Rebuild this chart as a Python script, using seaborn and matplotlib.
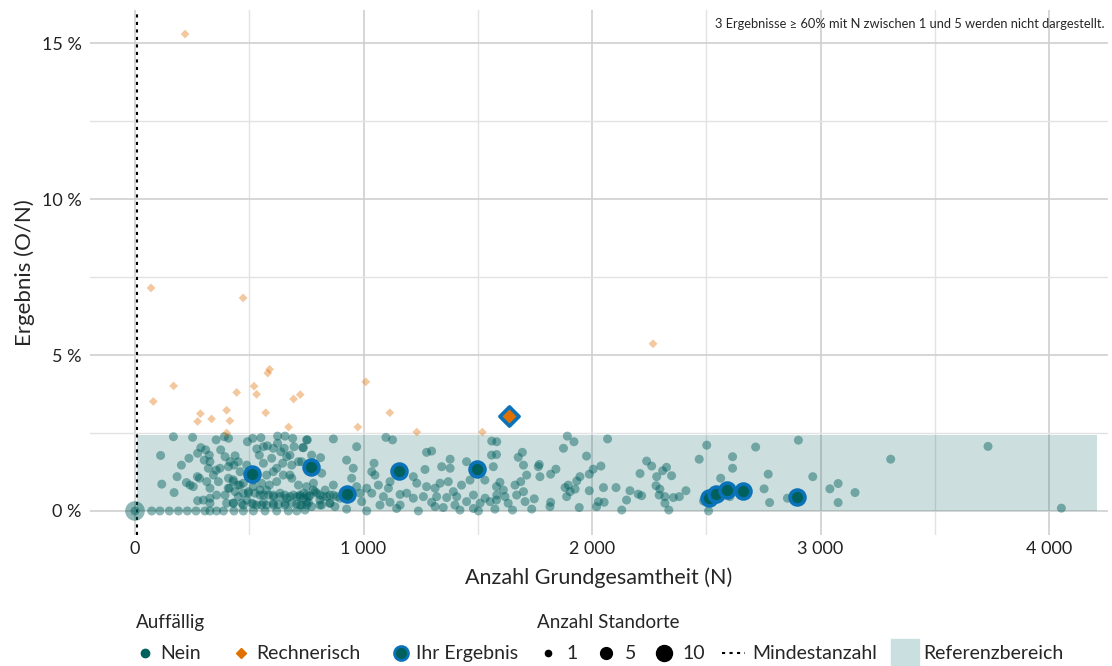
import pandas as pd
import seaborn as sns
import matplotlib.pyplot as plt
from matplotlib.lines import Line2D
from matplotlib.ticker import FuncFormatter, MultipleLocator

# --- data ----------------------------------------------------------------
# unauffaellige Standorte (N, Ergebnis in %)
nein_n = [
    168, 252, 355, 391, 409, 492, 515, 551, 579, 624, 656, 690, 696, 751, 734,
    288, 309, 274, 325, 375, 394, 416, 438, 452, 533, 544, 562, 605, 624, 638,
    653, 664, 598, 678, 715, 112, 236, 328,
    203, 303, 321, 355, 372, 409, 433, 460, 489, 562, 620, 646, 686, 729, 576,
    605, 649, 678,
    184, 273, 282, 343, 365, 409, 430, 452, 413, 474, 518, 554, 588, 620, 686,
    715, 225, 241, 255, 117, 314, 328, 171,
    274, 299, 328, 357, 394, 438, 452, 474, 496, 525, 547, 562, 584, 605, 635,
    656, 678, 708, 737, 759, 401, 430, 467, 489, 511, 533, 554, 576, 605, 627,
    656, 686, 722, 751, 328,
    73, 109, 150, 190, 229, 267, 306, 328, 357, 387, 433, 474, 518, 569, 620,
    671, 708,
    408, 430, 460, 496, 518, 547, 576, 606, 635, 664, 693, 722, 751, 780, 809,
    839, 868, 430, 474, 518, 562, 606, 657, 708, 759, 809, 853,
    754, 868, 970, 1098, 1127, 1276, 1298, 1379, 1451, 1561, 1583, 737, 773,
    812, 926, 955, 1046, 1036, 1050, 948, 817, 1269, 1342, 1379, 1568, 1218,
    1116, 1233, 1335, 1371, 1429, 1466, 1531, 781, 751, 868, 970, 1014, 1065,
    1109, 1276, 1313, 1393, 737, 788, 832, 985, 1036, 1087, 1160, 1189, 1218,
    1262, 1320, 1364, 1408, 1481, 1532, 1583, 751, 809, 853, 897, 992, 1072,
    1116, 1160, 1298, 1349, 1400, 1451, 1481, 1510, 1554, 744, 926, 1014, 1145,
    1240, 1422, 1503, 1313, 722, 766, 795, 824, 853, 882, 729, 773, 817, 875,
    1892, 1921, 1875, 2068, 1582, 1560, 1695, 1677, 1700, 1769, 1765, 1772,
    1714, 1819, 1842, 1976, 1988, 2005, 2039, 1947, 1933, 1896, 1882, 1904,
    1926, 1889, 1688, 1663, 1597, 1582, 1612, 1700, 1670, 1747, 1707, 1819,
    1816, 1582, 1619, 1633, 1652, 1736, 1575, 1944, 1988, 2020, 2050, 2028,
    2053, 2105, 2130, 2151, 2166, 2202, 2217, 2210, 2239, 2261, 2283, 2309,
    2326, 2348, 2280, 2297, 2294, 2319, 2319, 2336, 2356, 2382, 2411, 2469,
    2502, 2563, 2615, 2615, 2603, 2510, 2488,
    2716, 2903, 2771, 2966, 2753, 2777, 2855, 3041, 3077, 3077, 3151, 3307,
    3733, 4054, 0,
]
nein_pct = [
    2.38, 2.36, 2.28, 2.38, 2.33, 2.22, 2.33, 2.35, 2.09, 2.40, 2.40, 2.33, 2.06, 2.28, 2.03,
    2.03, 1.96, 1.85, 1.79, 1.96, 1.74, 1.58, 1.77, 1.58, 1.99, 1.79, 2.06, 2.01, 2.17, 1.90,
    2.01, 1.74, 1.69, 1.79, 1.58, 1.78, 1.69, 1.58,
    1.47, 1.63, 1.37, 1.31, 1.37, 1.42, 1.47, 1.26, 1.47, 1.53, 1.37, 1.53, 1.47, 1.58, 1.15,
    1.26, 1.15, 1.15,
    1.10, 1.10, 1.05, 1.15, 0.94, 1.05, 0.94, 0.83, 0.73, 0.89, 0.99, 0.89, 0.83, 0.94, 1.05,
    0.83, 0.91, 0.83, 0.78, 0.86, 0.94, 0.73, 0.59,
    0.33, 0.35, 0.41, 0.51, 0.51, 0.62, 0.46, 0.57, 0.62, 0.57, 0.67, 0.51, 0.51, 0.51, 0.46,
    0.51, 0.46, 0.46, 0.41, 0.46, 0.25, 0.25, 0.25, 0.35, 0.25, 0.19, 0.19, 0.19, 0.25, 0.21,
    0.19, 0.25, 0.19, 0.19, 0.25,
    0, 0, 0, 0, 0, 0, 0, 0, 0, 0, 0, 0, 0, 0, 0,
    0, 0,
    0.73, 1.00, 0.83, 0.57, 0.78, 0.51, 0.67, 0.46, 0.57, 0.41, 0.51, 0.46, 0.51, 0.67, 0.51,
    0.46, 0.51, 0.25, 0.19, 0.22, 0.27, 0.19, 0.25, 0.22, 0.27, 0.19, 0.25,
    2.28, 2.31, 2.06, 2.36, 2.28, 1.88, 1.92, 1.66, 1.58, 2.24, 2.22, 2.03, 1.79,
    1.71, 1.63, 1.37, 1.53, 1.26, 1.15, 1.05, 1.21, 1.33, 1.42, 1.37, 1.42, 1.10,
    0.94, 0.89, 0.89, 0.94, 0.83, 0.99, 0.99, 0.89, 0.78, 0.83, 0.78, 0.73, 0.83,
    0.73, 0.78, 0.73, 0.62, 0.57, 0.62, 0.67, 0.57, 0.57, 0.46, 0.53, 0.57, 0.41,
    0.46, 0.46, 0.43, 0.46, 0.51, 0.41, 0.51, 0.30, 0.35, 0.25, 0.41, 0.30, 0.19,
    0.28, 0.19, 0.28, 0.11, 0.19, 0.30, 0.08, 0.25, 0.30, 0.03, 0.06, 0, 0.08,
    0, 0.03, 0, 0.14, 0.51, 0.49, 0.57, 0.46, 0.51, 0.46, 0.19, 0.14, 0.19, 0.14,
    2.40, 2.22, 2.01, 2.31, 1.81, 1.79, 1.88, 1.72, 1.47, 1.49, 1.42, 1.10,
    1.15, 1.18, 1.34, 1.76, 1.18, 1.34, 1.44, 1.10, 0.96, 0.83, 0.75, 0.62,
    0.70, 0.46, 0.94, 0.83, 0.92, 0.78, 0.67, 0.62, 0.51, 0.39, 0.30, 0.28,
    0.14, 0.35, 0.46, 0.25, 0.03, 0.06, 0.06, 0.11, 0.65, 0.14, 0.75, 0.30,
    0.28, 0.75, 0.03, 0.35, 0.65, 0.54, 0.49, 1.20, 1.60, 1.44, 1.10, 1.29,
    1.40, 1.13, 0.81, 0.70, 0.51, 0.46, 0.25, 0.03, 0.43, 0.46, 0.65, 1.66,
    2.11, 1.05, 1.74, 1.37, 0.46, 0, 0.32,
    2.05, 2.27, 1.18, 1.10, 0.71, 0.27, 0.41, 0.71, 0.88, 0.27, 0.59, 1.66,
    2.07, 0.09, 0,
]

# Standorte mit mehreren Standorten
multi_n = [0]
multi_pct = [0]
multi_standorte = [10]

# rechnerisch auffaellig
rech_n = [219, 70, 473, 2267, 80, 169, 274, 286, 335, 401, 415, 445, 401, 521,
          532, 572, 581, 589, 694, 723, 672, 975, 1010, 1115, 1233, 1520]
rech_pct = [15.29, 7.15, 6.83, 5.36, 3.51, 4.01, 2.87, 3.12, 2.95, 3.23, 2.89,
            3.80, 2.50, 4.00, 3.74, 3.15, 4.42, 4.54, 3.59, 3.73, 2.69, 2.69,
            4.14, 3.15, 2.53, 2.53]

# eigene Ergebnisse
own_n = [510, 770, 926, 1157, 1495, 2514, 2543, 2590, 2660, 2896]
own_pct = [1.17, 1.42, 0.53, 1.29, 1.33, 0.41, 0.56, 0.67, 0.64, 0.44]
own_rech_n = [1636]
own_rech_pct = [3.05]

mindestanzahl = 10
ref_oben = 2.45
ref_n_max = 4210

teal = "#00605e"
orange = "#e07000"
blue = "#0a72b8"
band = "#cadfdf"
size_map = {1: 42, 5: 115, 10: 200}

sns.set_theme(style="white")
plt.rcParams["font.family"] = ["Lato", "DejaVu Sans"]

df_nein = pd.DataFrame({"N": nein_n, "pct": nein_pct, "standorte": 1})
df_multi = pd.DataFrame({"N": multi_n, "pct": multi_pct, "standorte": multi_standorte})
df_nein = pd.concat([df_nein, df_multi], ignore_index=True)
df_rech = pd.DataFrame({"N": rech_n, "pct": rech_pct})
df_own = pd.DataFrame({"N": own_n, "pct": own_pct})
df_own_rech = pd.DataFrame({"N": own_rech_n, "pct": own_rech_pct})

fig = plt.figure(figsize=(11.12, 6.66), dpi=100)
ax = fig.add_axes([90 / 1112, 1 - 535 / 666, 1018 / 1112, 525 / 666])

# Referenzbereich + Mindestanzahl
ax.fill_between([mindestanzahl, ref_n_max], 0, ref_oben, color=teal, alpha=0.2,
                lw=0, zorder=1)
ax.axvline(mindestanzahl, color="black", ls=(0, (1.5, 2.1)), lw=1.5, zorder=2)

sns.scatterplot(data=df_nein, x="N", y="pct", size="standorte", sizes=size_map,
                color=teal, alpha=0.45, edgecolor="none", legend=False, ax=ax,
                zorder=3)
sns.scatterplot(data=df_rech, x="N", y="pct", marker="D", s=20, color=orange,
                alpha=0.38, edgecolor="none", legend=False, ax=ax, zorder=3)
sns.scatterplot(data=df_own, x="N", y="pct", s=115, color=teal, edgecolor=blue,
                linewidth=2.6, legend=False, ax=ax, zorder=4)
sns.scatterplot(data=df_own_rech, x="N", y="pct", marker="D", s=95, color=orange,
                edgecolor=blue, linewidth=2.6, legend=False, ax=ax, zorder=4)

ax.set_xlim(-197, 4258)
ax.set_ylim(-0.77, 16.06)
ax.xaxis.set_major_locator(MultipleLocator(1000))
ax.xaxis.set_minor_locator(MultipleLocator(500))
ax.yaxis.set_major_locator(MultipleLocator(5))
ax.yaxis.set_minor_locator(MultipleLocator(2.5))
ax.xaxis.set_major_formatter(FuncFormatter(lambda v, p: f"{int(v):,}".replace(",", " ")))
ax.yaxis.set_major_formatter(FuncFormatter(lambda v, p: f"{int(v)} %"))
ax.grid(which="major", color="#cfcfcf", lw=1.2, zorder=0)
ax.grid(which="minor", color="#e2e2e2", lw=1.0, zorder=0)
ax.set_axisbelow(True)
for s in ax.spines.values():
    s.set_visible(False)
ax.tick_params(which="both", length=0, labelsize=13, colors="#222222")
ax.tick_params(axis="y", pad=6)
ax.tick_params(axis="x", pad=4)
ax.set_xlabel("Anzahl Grundgesamtheit (N)", fontsize=15.5, labelpad=8)
ax.set_ylabel("Ergebnis (O/N)", fontsize=16, labelpad=5)

ax.text(0.997, 0.985, "3 Ergebnisse \u2265 60% mit N zwischen 1 und 5 werden nicht dargestellt.",
        transform=ax.transAxes, ha="right", va="top", fontsize=9.3)

# Legenden
h1 = [
    Line2D([], [], marker="o", ls="", color=teal, ms=6),
    Line2D([], [], marker="D", ls="", color=orange, ms=5),
    Line2D([], [], marker="o", ls="", mfc=teal, mec=blue, mew=2, ms=10),
]
leg1 = fig.legend(h1, ["Nein", "Rechnerisch", "Ihr Ergebnis"], title="Auffällig",
                  loc="upper left", bbox_to_anchor=(126 / 1112, 1 - 604 / 666),
                  ncol=3, frameon=False, fontsize=14, title_fontsize=13.5,
                  alignment="left", handletextpad=0.25, columnspacing=1.6,
                  borderpad=0, handlelength=1.0, labelspacing=0.75)
h2 = [
    Line2D([], [], marker="o", ls="", color="black", ms=4.5),
    Line2D([], [], marker="o", ls="", color="black", ms=8.5),
    Line2D([], [], marker="o", ls="", color="black", ms=11.5),
    Line2D([], [], color="black", ls=(0, (1.5, 2.1)), lw=1.5),
    Line2D([], [], marker="s", ls="", color=band, ms=20),
]
leg2 = fig.legend(h2, ["1", "5", "10", "Mindestanzahl", "Referenzbereich"],
                  title="Anzahl Standorte", loc="upper left",
                  bbox_to_anchor=(527 / 1112, 1 - 604 / 666), ncol=5,
                  frameon=False, fontsize=14, title_fontsize=13.5,
                  alignment="left", handletextpad=0.35, columnspacing=0.85,
                  borderpad=0, handlelength=1.2, labelspacing=0.75)

fig.savefig("out.png", dpi=100)
